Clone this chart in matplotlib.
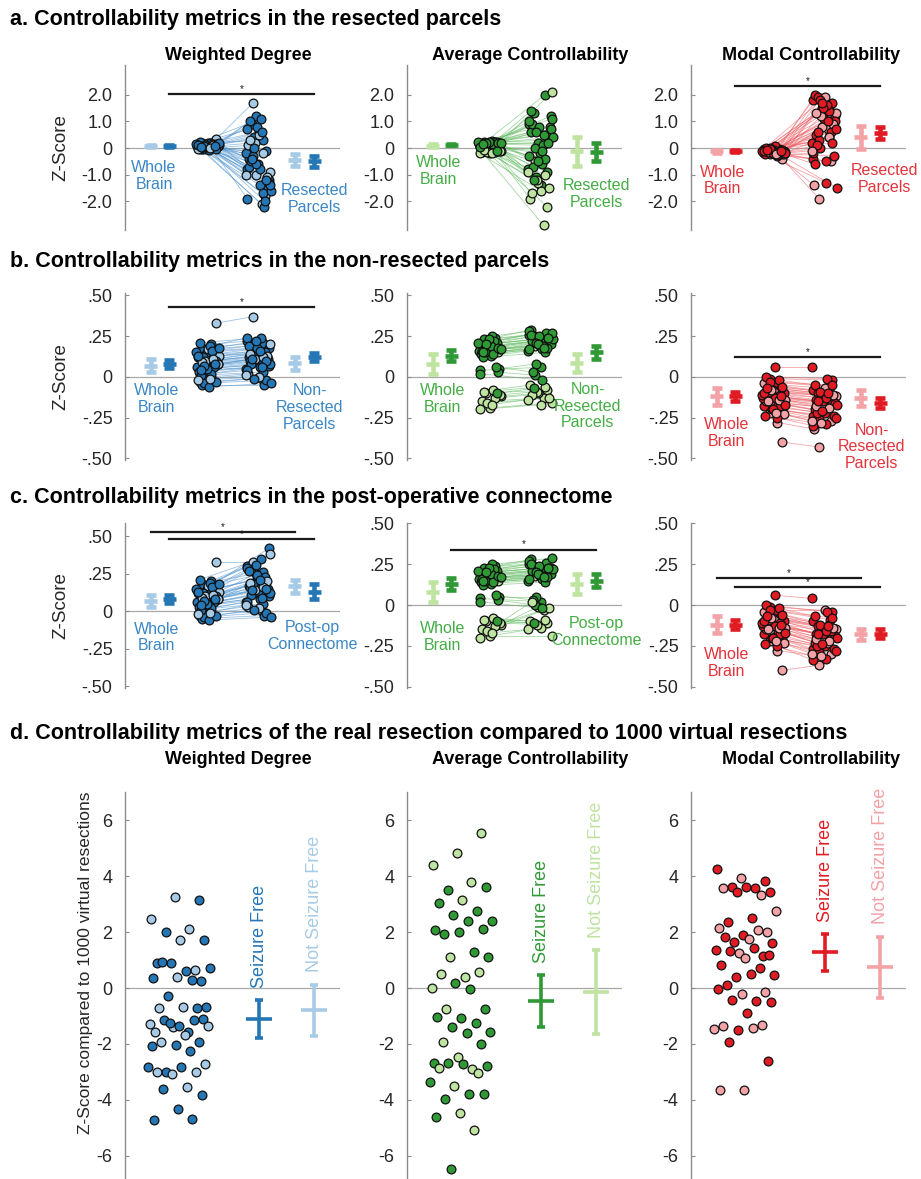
import matplotlib
matplotlib.use("Agg")
import matplotlib.pyplot as plt

plt.rcParams['font.family'] = ['Liberation Sans', 'DejaVu Sans']

# ---------------- data ----------------
metric_names = ['Weighted Degree', 'Average Controllability', 'Modal Controllability']
region_labels = ['Resected\nParcels', 'Non-\nResected\nParcels', 'Post-op\nConnectome']

# 1 = seizure free, 0 = not seizure free (panels a-c)
seizure_free = [1, 1, 0, 1, 1, 1, 0, 1, 1, 0, 1, 1, 1, 0, 1, 1, 0, 1, 1, 1, 0, 1, 1,
                1, 1, 0, 1, 1, 0, 1, 1, 1, 0, 1, 1, 0, 1, 1, 1, 0, 1, 1, 0, 1, 1]

# whole brain values per subject
wb_wd = [0.20, 0.18, 0.33, 0.15, 0.12, 0.10, 0.05, 0.08, 0.02, -0.03, 0.14, 0.09, 0.06, 0.00, -0.05,
         0.11, 0.17, 0.03, 0.07, -0.04, 0.13, 0.19, 0.01, 0.10, 0.04, -0.02, 0.16, 0.12, 0.08, -0.06,
         0.21, 0.06, 0.10, 0.15, 0.02, 0.09, -0.03, 0.05, 0.13, 0.11, 0.07, 0.18, -0.01, 0.04, 0.08]
wb_ac = [0.22, 0.18, 0.15, 0.20, 0.04, 0.24, -0.10, 0.17, 0.13, -0.15, 0.21, 0.19, 0.16, -0.08, 0.23,
         0.05, -0.19, 0.14, 0.18, 0.20, -0.12, 0.25, 0.12, 0.03, 0.17, -0.20, 0.22, 0.15, -0.11, 0.19,
         0.16, 0.06, -0.16, 0.21, 0.14, -0.09, 0.18, 0.23, 0.02, -0.13, 0.20, 0.17, -0.17, 0.15, -0.10]
wb_mc = [-0.05, -0.12, -0.40, -0.08, -0.18, -0.02, -0.22, -0.10, 0.06, -0.15, -0.07, -0.20, -0.13, -0.28, -0.03,
         -0.17, -0.09, -0.24, -0.11, -0.01, -0.14, -0.19, -0.06, -0.21, -0.12, -0.04, -0.16, -0.09, -0.23, -0.13,
         0.00, -0.18, -0.08, -0.11, -0.25, -0.15, -0.06, -0.20, -0.10, -0.14, -0.03, -0.17, -0.22, -0.07, -0.12]

# resected parcels
res_wd = [-0.8, 0.3, 1.7, -1.2, 0.6, -0.4, -1.8, 1.2, -0.2, -2.1, 0.9, -1.5, -0.6, 0.1, -2.2,
          0.4, -0.9, -1.4, 1.0, -0.1, -1.0, 0.7, -1.7, -0.3, -1.3, 0.5, -0.7, -2.0, 0.2, -1.6,
          1.1, -0.5, -1.1, 0.8, -1.9, -0.2, 0.0, -1.4, -0.8, 0.3, -1.2, -0.6, -1.0, 0.6, -0.4]
res_ac = [0.9, 2.0, -0.5, 1.2, -1.4, 0.6, -2.2, 0.2, -0.8, -2.9, 1.3, 0.8, -0.2, -1.9, 0.5,
          -1.1, 2.1, -0.6, 0.9, 0.3, -1.3, 1.0, -0.4, 0.0, 0.7, -1.6, 1.4, -0.9, -1.2, 0.4,
          0.1, -0.7, -1.5, 0.8, -0.3, -1.0, 0.6, 1.1, -0.1, -1.7, 0.2, -0.5, -0.9, 0.5, -1.2]
res_mc = [1.8, 0.4, -1.9, 1.2, 0.9, 2.0, -0.5, 1.5, 0.2, 0.7, 1.9, -0.3, 1.1, -1.4, 1.6,
          0.0, 1.3, -1.3, 0.5, 1.7, 0.8, -0.4, 1.4, 0.3, 1.0, 1.9, -0.6, 0.6, 1.2, -1.5,
          1.6, 0.1, 0.9, 1.5, -0.2, 0.4, 1.8, 0.7, -0.5, 1.3, 0.2, 1.7, -0.1, 1.0, 0.6]

# non-resected parcels
nr_wd = [0.22, 0.21, 0.37, 0.18, 0.15, 0.12, 0.08, 0.11, 0.05, -0.01, 0.17, 0.11, 0.09, 0.02, -0.05,
         0.14, 0.20, 0.06, 0.10, -0.02, 0.16, 0.24, 0.03, 0.13, 0.07, 0.00, 0.19, 0.15, 0.11, -0.04,
         0.24, 0.08, 0.13, 0.18, 0.04, 0.12, -0.01, 0.08, 0.16, 0.14, 0.10, 0.22, 0.01, 0.06, 0.11]
nr_ac = [0.26, 0.22, 0.19, 0.24, 0.06, 0.29, -0.08, 0.21, 0.16, -0.13, 0.25, 0.23, 0.19, -0.05, 0.27,
         0.08, -0.16, 0.17, 0.22, 0.24, -0.10, 0.28, 0.15, 0.01, 0.20, -0.17, 0.26, 0.18, -0.09, 0.23,
         0.19, 0.03, -0.13, 0.25, 0.17, -0.06, 0.21, 0.27, -0.02, -0.11, 0.24, 0.20, -0.14, 0.18, -0.07]
nr_mc = [-0.08, -0.16, -0.43, -0.12, -0.22, -0.05, -0.27, -0.13, 0.06, -0.19, -0.10, -0.24, -0.17, -0.32, -0.06,
         -0.21, -0.12, -0.29, -0.14, -0.02, -0.18, -0.24, -0.09, -0.26, -0.16, -0.07, -0.20, -0.12, -0.28, -0.17,
         -0.01, -0.22, -0.11, -0.15, -0.30, -0.19, -0.09, -0.25, -0.13, -0.18, -0.05, -0.21, -0.27, -0.10, -0.15]

# post-operative connectome
po_wd = [0.30, 0.26, 0.33, 0.42, 0.22, 0.17, 0.12, 0.20, 0.06, 0.00, 0.28, 0.15, 0.13, 0.03, -0.03,
         0.19, 0.38, 0.08, 0.16, -0.01, 0.25, 0.29, 0.05, 0.18, 0.10, 0.02, 0.27, 0.23, 0.14, -0.04,
         0.35, 0.11, 0.20, 0.24, 0.06, 0.16, 0.01, 0.12, 0.21, 0.19, 0.15, 0.31, 0.04, 0.09, 0.14]
po_ac = [0.25, 0.21, 0.18, 0.23, 0.02, 0.28, -0.11, 0.20, 0.15, -0.03, 0.24, 0.22, 0.18, -0.10, 0.26,
         0.05, -0.19, 0.16, 0.21, 0.23, -0.01, 0.27, 0.14, 0.00, 0.19, -0.14, 0.25, 0.17, -0.12, 0.22,
         0.18, 0.03, -0.02, 0.24, 0.16, -0.09, 0.20, 0.29, -0.02, 0.02, 0.23, 0.19, -0.15, 0.17, -0.11]
po_mc = [-0.10, -0.19, -0.37, -0.15, -0.25, -0.07, -0.30, -0.17, 0.04, -0.23, -0.13, -0.27, -0.20, -0.31, -0.09,
         -0.24, -0.15, -0.33, -0.18, -0.04, -0.21, -0.27, -0.12, -0.29, -0.19, -0.03, -0.23, -0.16, -0.31, -0.20,
         -0.04, -0.25, -0.14, -0.18, -0.34, -0.22, -0.12, -0.28, -0.16, -0.21, -0.08, -0.24, -0.30, -0.13, -0.18]

# group means / errors, order: [not seizure free, seizure free]
wb_mean = {'wd': [0.07, 0.08], 'ac': [0.08, 0.13], 'mc': [-0.12, -0.12]}
wb_err = {'wd': [0.04, 0.025], 'ac': [0.06, 0.035], 'mc': [0.05, 0.03]}
res_mean = {'wd': [-0.45, -0.5], 'ac': [-0.12, -0.15], 'mc': [0.4, 0.55]}
res_err = {'wd': [0.22, 0.22], 'ac': [0.55, 0.35], 'mc': [0.42, 0.22]}
nr_mean = {'wd': [0.085, 0.12], 'ac': [0.085, 0.15], 'mc': [-0.13, -0.16]}
nr_err = {'wd': [0.04, 0.025], 'ac': [0.055, 0.04], 'mc': [0.05, 0.03]}
po_mean = {'wd': [0.165, 0.13], 'ac': [0.13, 0.15], 'mc': [-0.18, -0.175]}
po_err = {'wd': [0.045, 0.05], 'ac': [0.06, 0.04], 'mc': [0.035, 0.03]}

# d. real resection vs 1000 virtual resections
vr_wd = [3.14, 3.25, 2.48, 2.12, 2.0, 1.70, 1.70, 0.90, 0.63, 0.90, 0.73, 0.61, 0.93, 0.25, 0.40,
         0.37, 0.27, -0.29, -0.67, -0.67, -0.70, -0.73, -1.39, -1.27, -1.56, -1.15, -1.10, -1.36, -1.56, -1.15,
         -1.24, -1.36, -1.69, -1.93, -1.93, -2.04, -2.07, -2.25, -3.0, -2.73, -2.81, -3.0, -3.0, -3.08, -2.82,
         -3.52, -3.62, -3.82, -4.31, -4.73, -4.69]
vr_wd_sf = [1, 0, 0, 0, 1, 1, 0, 1, 0, 1, 1, 1, 1, 1, 0, 1, 1, 1, 1, 0, 0, 1, 0, 0, 1,
            1, 1, 1, 0, 1, 1, 0, 0, 0, 1, 1, 1, 1, 1, 0, 1, 0, 0, 0, 1, 0, 1, 1, 1, 1, 1]
vr_ac = [5.52, 4.83, 4.39, 3.79, 3.50, 3.62, 3.13, 3.05, 2.75, 2.61, 2.39, 2.39, 1.94, 2.10, 2.01,
         2.06, 1.29, 1.12, 1.12, 0.40, 0.49, 0.57, 0.19, 0.01, -0.05, -0.74, -0.74, -1.06, -1.02, -1.24,
         -1.38, -1.57, -1.62, -1.93, -2.01, -2.45, -2.67, -2.90, -2.69, -2.79, -2.73, -2.85, -3.05, -3.50, -3.36,
         -3.77, -3.98, -3.80, -4.45, -4.60, -5.08, -6.48]
vr_ac_sf = [0, 0, 0, 0, 1, 1, 0, 1, 1, 1, 1, 1, 1, 1, 1, 1, 1, 0, 1, 0, 0, 0, 1, 0, 1, 0,
            1, 1, 1, 1, 1, 1, 1, 0, 1, 0, 1, 0, 1, 1, 1, 0, 0, 0, 1, 1, 1, 1, 0, 1, 0, 1]
vr_mc = [3.82, 3.94, 4.26, 3.56, 3.62, 3.44, 3.61, 3.56, 3.31, 3.44, 2.75, 2.51, 2.36, 2.01, 1.88,
         2.15, 2.07, 1.65, 1.62, 1.74, 1.82, 1.14, 1.26, 1.35, 1.42, 1.32, 1.18, 1.06, 0.82, 0.73,
         0.39, 0.45, 0.51, 0.11, -0.13, -0.23, -0.05, -0.46, -0.43, -0.49, -0.88, -1.36, -1.32, -1.51, -1.48,
         -1.42, -1.92, -2.61, -3.65, -3.65]
vr_mc_sf = [1, 0, 1, 1, 1, 1, 1, 0, 0, 1, 0, 1, 1, 0, 1, 0, 0, 1, 1, 0, 1, 1, 0, 1, 1,
            1, 1, 0, 1, 1, 1, 1, 1, 1, 0, 0, 1, 1, 1, 1, 1, 0, 0, 1, 0, 0, 1, 1, 0, 0]
# [seizure free, not seizure free]
vr_mean = {'wd': [-1.12, -0.8], 'ac': [-0.47, -0.15], 'mc': [1.27, 0.74]}
vr_err = {'wd': [0.68, 0.92], 'ac': [0.93, 1.5], 'mc': [0.65, 1.09]}

# ---------------- style ----------------
pals = {
    'wd': dict(dark='#2476b5', light='#a7cbe6', text='#3b87c6', line='#4a90cc'),
    'ac': dict(dark='#2f9a35', light='#bfe3a0', text='#45ad45', line='#5cb85c'),
    'mc': dict(dark='#e01b24', light='#f3a2a6', text='#e3343c', line='#ec5a60'),
}
keys = ['wd', 'ac', 'mc']
W, H = 921, 1179
X_WB_L, X_WB_D, X_LEFT, X_RIGHT, X_R_L, X_R_D = 1.2, 2.05, 3.85, 6.2, 7.9, 8.8


def fx(px):
    return px / W


def fy(px):
    return 1 - px / H


def jit(i, shift=0.0):
    return (((i + 1) * 0.6180339887 + shift) % 1.0) * 2 - 1


def style_axis(ax, ylim, ticks, labels):
    ax.set_xlim(0, 10)
    ax.set_ylim(*ylim)
    for s in ['top', 'right', 'bottom']:
        ax.spines[s].set_visible(False)
    ax.spines['left'].set_color('#8c8c8c')
    ax.spines['left'].set_linewidth(1.0)
    ax.set_xticks([])
    ax.set_yticks(ticks)
    ax.set_yticklabels(labels)
    ax.tick_params(axis='y', direction='in', length=3, color='#8c8c8c',
                   labelsize=13, labelcolor='#262626', pad=9)
    ax.axhline(0, color='#a8a8a8', lw=0.9, zorder=0)
    ax.patch.set_alpha(0)


def mean_mark(ax, x, m, e, color, hw=0.3, lw=3.3, cap=3.5):
    ax.errorbar([x], [m], yerr=[e], fmt='none', ecolor=color, elinewidth=lw,
                capsize=cap, capthick=lw, zorder=3)
    ax.plot([x - hw, x + hw], [m, m], color=color, lw=lw, solid_capstyle='butt', zorder=3)


def sig_bar(ax, x0, x1, y):
    ax.plot([x0, x1], [y, y], color='#1a1a1a', lw=1.6, clip_on=False, zorder=4)
    ax.text((x0 + x1) / 2, y, '*', ha='center', va='bottom', fontsize=7, color='#1a1a1a')


fig = plt.figure(figsize=(W / 100, H / 100), dpi=100)

col_left = [125, 407, 691]
ax_w = 215
rows = [(65, 230), (293, 460), (523, 688)]

wb_data = {'wd': wb_wd, 'ac': wb_ac, 'mc': wb_mc}
region_data = [
    {'wd': res_wd, 'ac': res_ac, 'mc': res_mc},
    {'wd': nr_wd, 'ac': nr_ac, 'mc': nr_mc},
    {'wd': po_wd, 'ac': po_ac, 'mc': po_mc},
]
region_mean = [res_mean, nr_mean, po_mean]
region_err = [res_err, nr_err, po_err]

ab_ticks = [[-2, -1, 0, 1, 2], [-0.5, -0.25, 0, 0.25, 0.5], [-0.5, -0.25, 0, 0.25, 0.5]]
ab_ticklabels = [['-2.0', '-1.0', '0', '1.0', '2.0'], ['-.50', '-.25', '0', '.25', '.50'],
                 ['-.50', '-.25', '0', '.25', '.50']]
ylims = [[(-3.07, 3.11)] * 3,
         [(-0.51, 0.515)] * 3,
         [(-0.513, 0.587), (-0.509, 0.503), (-0.509, 0.503)]]
# label placement (wb x, wb y, region x, region y)
label_pos = [
    [(1.35, -0.45, 8.8, -1.3), (1.45, -0.26, 8.8, -1.13), (1.45, -0.62, 9.0, -0.56)],
    [(1.45, -0.04, 8.6, -0.04), (1.65, -0.04, 8.4, -0.03), (1.65, -0.245, 8.4, -0.28)],
    [(1.45, -0.07, 8.7, -0.06), (1.65, -0.10, 8.8, -0.07), (1.65, -0.26, None, None)],
]
sig_bars = [
    [[(X_WB_D, X_R_D, 2.02)], [], [(X_WB_D, X_R_D, 2.32)]],
    [[(X_WB_D, X_R_D, 0.43)], [], [(X_WB_D, X_R_D, 0.12)]],
    [[(X_WB_L, X_R_L, 0.527), (X_WB_D, X_R_D, 0.48)], [(X_WB_D, X_R_D, 0.34)],
     [(X_WB_L, X_R_L, 0.165), (X_WB_D, X_R_D, 0.11)]],
]

for r, (top, bot) in enumerate(rows):
    for c, k in enumerate(keys):
        pal = pals[k]
        ax = fig.add_axes([fx(col_left[c]), fy(bot), ax_w / W, (bot - top) / H])
        style_axis(ax, ylims[r][c], ab_ticks[r], ab_ticklabels[r])
        wb = wb_data[k]
        reg = region_data[r][k]
        for i in range(len(wb)):
            xl = X_LEFT + 0.55 * jit(i)
            xr = X_RIGHT + 0.6 * jit(i, 0.45)
            ax.plot([xl, xr], [wb[i], reg[i]], color=pal['line'], lw=0.6, alpha=0.55, zorder=1)
        for i in range(len(wb)):
            col = pal['dark'] if seizure_free[i] else pal['light']
            xl = X_LEFT + 0.55 * jit(i)
            xr = X_RIGHT + 0.6 * jit(i, 0.45)
            ax.scatter([xl, xr], [wb[i], reg[i]], s=40, c=col, edgecolors='#111111',
                       linewidths=0.9, zorder=2)
        mean_mark(ax, X_WB_L, wb_mean[k][0], wb_err[k][0], pal['light'])
        mean_mark(ax, X_WB_D, wb_mean[k][1], wb_err[k][1], pal['dark'])
        mean_mark(ax, X_R_L, region_mean[r][k][0], region_err[r][k][0], pal['light'])
        mean_mark(ax, X_R_D, region_mean[r][k][1], region_err[r][k][1], pal['dark'])
        lx, ly, rx, ry = label_pos[r][c]
        ax.text(lx, ly, 'Whole\nBrain', ha='center', va='top', fontsize=11.5,
                color=pal['text'], linespacing=1.15)
        if rx is not None:
            ax.text(rx, ry, region_labels[r], ha='center', va='top', fontsize=11.5,
                    color=pal['text'], linespacing=1.15)
        for x0, x1, y in sig_bars[r][c]:
            sig_bar(ax, x0, x1, y)
        if c == 0:
            ax.set_ylabel('Z-Score', fontsize=13.5, color='#262626')
            ax.yaxis.set_label_coords(-0.26, 0.5)

# ---- row d ----
vr_data = {'wd': (vr_wd, vr_wd_sf), 'ac': (vr_ac, vr_ac_sf), 'mc': (vr_mc, vr_mc_sf)}
d_top, d_bot = 792, 1184
for c, k in enumerate(keys):
    pal = pals[k]
    ax = fig.add_axes([fx(col_left[c]), fy(d_bot), ax_w / W, (d_bot - d_top) / H])
    style_axis(ax, (-7, 7), [-6, -4, -2, 0, 2, 4, 6], ['-6', '-4', '-2', '0', '2', '4', '6'])
    vals, sf = vr_data[k]
    for i, v in enumerate(vals):
        col = pal['dark'] if sf[i] else pal['light']
        ax.scatter([2.5 + 1.45 * jit(i, 0.2)], [v], s=40, c=col, edgecolors='#111111',
                   linewidths=0.9, zorder=2)
    xs = [6.25, 8.8]
    cols = [pal['dark'], pal['light']]
    names = ['Seizure Free', 'Not Seizure Free']
    for j in range(2):
        m, e = vr_mean[k][j], vr_err[k][j]
        mean_mark(ax, xs[j], m, e, cols[j], hw=0.6, lw=2.6, cap=3.0)
        ax.text(xs[j], m + e + 0.45, names[j], rotation=90, ha='center', va='bottom',
                fontsize=13, color=cols[j])
    if c == 0:
        ax.set_ylabel('Z-Score compared to 1000 virtual resections', fontsize=12.5, color='#262626')
        ax.yaxis.set_label_coords(-0.15, 0.564)

# ---- titles ----
sections = ['a. Controllability metrics in the resected parcels',
            'b. Controllability metrics in the non-resected parcels',
            'c. Controllability metrics in the post-operative connectome',
            'd. Controllability metrics of the real resection compared to 1000 virtual resections']
for txt, ypx in zip(sections, [20, 262, 498, 733]):
    fig.text(fx(10), fy(ypx), txt, ha='left', va='center', fontsize=15.5, fontweight='bold')

for name, xpx in zip(metric_names, [238, 530, 811]):
    for ypx in [55, 760]:
        fig.text(fx(xpx), fy(ypx), name, ha='center', va='center', fontsize=13, fontweight='bold')

fig.savefig('out.png', dpi=100)
